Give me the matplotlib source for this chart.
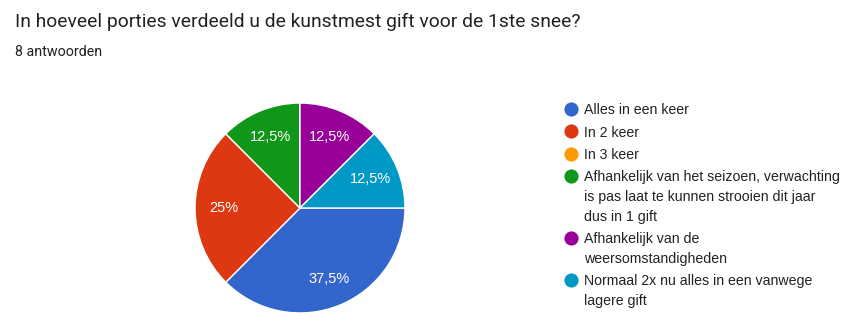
import matplotlib
matplotlib.use('Agg')
import matplotlib.pyplot as plt

# Survey answers (8 responses)
labels = [
    'Alles in een keer',
    'In 2 keer',
    'In 3 keer',
    'Afhankelijk van het seizoen, verwachting\nis pas laat te kunnen strooien dit jaar\ndus in 1 gift',
    'Afhankelijk van de\nweersomstandigheden',
    'Normaal 2x nu alles in een vanwege\nlagere gift',
]
counts = [3, 2, 0, 1, 1, 1]
colors = ['#3366cc', '#dc3912', '#ff9900', '#109618', '#990099', '#0099c6']

W, H = 858, 333
fig = plt.figure(figsize=(W / 100, H / 100), dpi=100)
fig.patch.set_facecolor('white')


def px(x, y):
    # pixel position (from top-left) -> figure fraction
    return x / W, 1 - y / H


fig.text(*px(15, 27), 'In hoeveel porties verdeeld u de kunstmest gift voor de 1ste snee?',
         fontsize=13.9, family='Roboto', color='#202124', va='baseline', ha='left')
fig.text(*px(15, 56.5), '8 antwoorden', fontsize=10.3, family='Roboto',
         color='#202124', va='baseline', ha='left')

# pie: centre (300, 208) px, radius 106 px
cx, cy, r = 300, 208, 106
ax = fig.add_axes([(cx - r) / W, (H - cy - r) / H, 2 * r / W, 2 * r / H])
ax.set_aspect('equal')

vals = [c for c in counts if c > 0]
cols = [col for c, col in zip(counts, colors) if c > 0]


def fmt(p):
    s = f'{p:.1f}'.rstrip('0').rstrip('.')
    return s.replace('.', ',') + '%'


ax.pie(vals, colors=cols, startangle=0, counterclock=False,
       autopct=fmt, pctdistance=0.73, radius=1,
       wedgeprops=dict(edgecolor='white', linewidth=1),
       textprops=dict(color='white', fontsize=10.5, family='Liberation Sans'))
ax.set_xlim(-1.01, 1.01)
ax.set_ylim(-1.01, 1.01)
ax.axis('off')

# legend with wrapped entries, one text per line
y = 109
line_h = 19.7
gap = 22.3
for lab, col in zip(labels, colors):
    fig.lines.append(plt.Line2D([571 / W], [1 - y / H], marker='o', markersize=10.2,
                                markeredgewidth=0, color=col,
                                transform=fig.transFigure, linestyle='none'))
    lines = lab.split('\n')
    for i, line in enumerate(lines):
        fig.text(*px(584, y + 5.3 + i * line_h), line, fontsize=10.2,
                 family='Liberation Sans', color='#222222', va='baseline', ha='left')
    y += (len(lines) - 1) * line_h + gap

fig.savefig('out.png', dpi=100, facecolor='white')
